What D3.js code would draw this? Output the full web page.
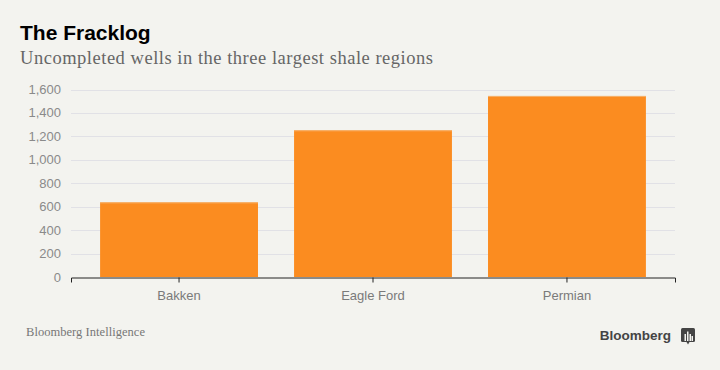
<!DOCTYPE html>
<html>
<head>
<meta charset="utf-8">
<script src="https://cdnjs.cloudflare.com/ajax/libs/d3/7.8.5/d3.min.js"></script>
<style>
  body { margin: 0; background: #f3f3ef; }
  svg { display: block; }
</style>
</head>
<body>
<div id="chart"></div>
<script>
const regions = ['Bakken', 'Eagle Ford', 'Permian'];
const wells = [637, 1252, 1545];
const yTicks = [0, 200, 400, 600, 800, 1000, 1200, 1400, 1600];

const width = 720, height = 370;
const margin = { left: 71, right: 45, top: 89.5, bottom: 93 };

const svg = d3.select('#chart').append('svg')
  .attr('width', width)
  .attr('height', height);

svg.append('rect')
  .attr('width', width)
  .attr('height', height)
  .attr('fill', '#f3f3ef');

// titles
svg.append('text')
  .attr('x', 20).attr('y', 40)
  .attr('font-family', 'Liberation Sans, Arial, sans-serif')
  .attr('font-weight', 'bold')
  .attr('font-size', 21)
  .attr('fill', '#000')
  .text('The Fracklog');

svg.append('text')
  .attr('x', 20).attr('y', 64)
  .attr('font-family', 'Liberation Serif, serif')
  .attr('font-size', 18.5)
  .attr('fill', '#666')
  .attr('textLength', 413)
  .text('Uncompleted wells in the three largest shale regions');

const x = d3.scaleBand()
  .domain(regions)
  .range([margin.left, width - margin.right])
  .paddingInner(0.186)
  .paddingOuter(0.15);

const y = d3.scaleLinear()
  .domain([0, 1600])
  .range([height - margin.bottom, margin.top]);

// gridlines
svg.append('g')
  .selectAll('line')
  .data(yTicks.slice(1))
  .enter()
  .append('line')
  .attr('x1', margin.left)
  .attr('x2', width - margin.right)
  .attr('y1', d => Math.round(y(d)) + 0.5)
  .attr('y2', d => Math.round(y(d)) + 0.5)
  .attr('stroke', '#e1e1e6')
  .attr('stroke-width', 1);

// y labels
svg.append('g')
  .selectAll('text')
  .data(yTicks)
  .enter()
  .append('text')
  .attr('x', 61)
  .attr('y', d => y(d) + 4.5)
  .attr('text-anchor', 'end')
  .attr('font-family', 'Liberation Sans, Arial, sans-serif')
  .attr('font-size', 13)
  .attr('fill', '#8a8a8a')
  .text(d => d3.format(',')(d));

// bars
const bars = svg.append('g')
  .selectAll('g')
  .data(regions.map((r, i) => ({ region: r, value: wells[i] })))
  .enter()
  .append('g');

bars.append('rect')
  .attr('x', d => x(d.region))
  .attr('width', x.bandwidth())
  .attr('y', d => y(d.value))
  .attr('height', d => y(0) - y(d.value))
  .attr('fill', '#fb8c20');

bars.append('rect')
  .attr('x', d => x(d.region))
  .attr('width', x.bandwidth())
  .attr('y', d => y(d.value))
  .attr('height', 1)
  .attr('fill', '#f6b26c');

// x axis
const xAxis = d3.axisBottom(x).tickSize(5).tickSizeOuter(5);
const gx = svg.append('g')
  .attr('transform', `translate(0,${Math.round(y(0)) + 0.5})`)
  .call(xAxis);
gx.select('.domain').attr('stroke', '#222');
gx.selectAll('.tick line').attr('stroke', '#222');
gx.selectAll('.tick text')
  .attr('dy', 0)
  .attr('y', 22)
  .attr('font-family', 'Liberation Sans, Arial, sans-serif')
  .attr('font-size', 13)
  .attr('fill', '#7a7a7a');

// footer
svg.append('text')
  .attr('x', 26).attr('y', 336)
  .attr('font-family', 'Liberation Serif, serif')
  .attr('font-size', 12.5)
  .attr('fill', '#777')
  .attr('textLength', 119)
  .text('Bloomberg Intelligence');

svg.append('text')
  .attr('x', 671).attr('y', 340)
  .attr('text-anchor', 'end')
  .attr('font-family', 'Liberation Sans, Arial, sans-serif')
  .attr('font-weight', 'bold')
  .attr('font-size', 13.5)
  .attr('fill', '#444')
  .text('Bloomberg');

// logo icon
const logo = svg.append('g').attr('transform', 'translate(681,328)');
logo.append('rect')
  .attr('width', 14).attr('height', 14)
  .attr('rx', 1.5)
  .attr('fill', '#444');
logo.append('path')
  .attr('d', 'M5.5,14 L7,16.5 L8.5,14 Z')
  .attr('fill', '#444');
[[3.5, 6, 7], [6, 3.5, 9.5], [8.5, 6, 7], [10.5, 8, 5]].forEach(b => {
  logo.append('rect')
    .attr('x', b[0]).attr('y', b[1])
    .attr('width', 1.5).attr('height', b[2])
    .attr('fill', '#f3f3ef');
});
</script>
</body>
</html>
